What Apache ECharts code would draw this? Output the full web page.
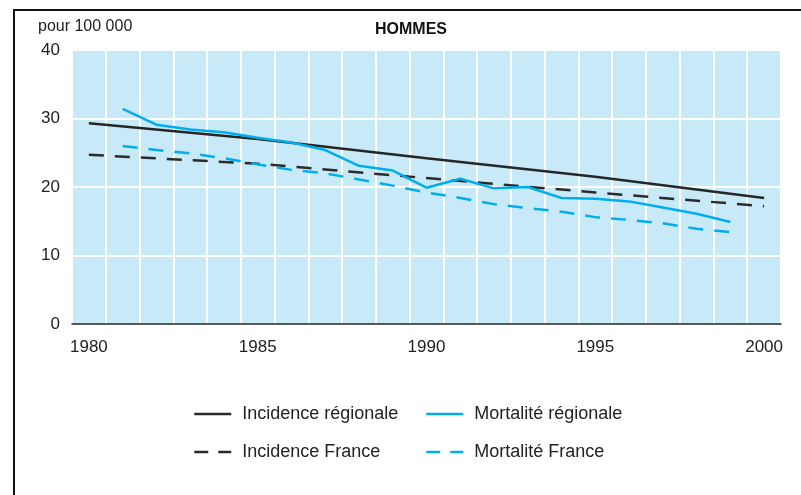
<!DOCTYPE html>
<html>
<head>
<meta charset="utf-8">
<script src="https://cdn.jsdelivr.net/npm/echarts@6/dist/echarts.min.js"></script>
<style>
  html, body { margin: 0; padding: 0; background: #fff; }
  #chart { width: 801px; height: 495px; }
</style>
</head>
<body>
<div id="chart"></div>
<script>
// années (axe des x)
const years = ['1980', '1981', '1982', '1983', '1984', '1985', '1986', '1987', '1988', '1989', '1990',
               '1991', '1992', '1993', '1994', '1995', '1996', '1997', '1998', '1999', '2000'];

// incidence : estimations quinquennales
const incidenceRegionale = [29.3, null, null, null, null, 27.0, null, null, null, null, 24.2,
                            null, null, null, null, 21.5, null, null, null, null, 18.4];
const incidenceFrance = [24.7, null, null, null, null, 23.4, null, null, null, null, 21.3,
                         null, null, null, null, 19.2, null, null, null, null, 17.2];

// mortalité : valeurs annuelles 1981-1999
const mortaliteRegionale = [null, 31.4, 29.1, 28.4, 28.0, 27.2, 26.5, 25.4, 23.1, 22.4, 19.9,
                            21.2, 19.8, 20.0, 18.4, 18.3, 17.9, 17.0, 16.1, 14.9, null];
const mortaliteFrance = [null, 26.0, 25.4, 24.9, 24.2, 23.3, 22.5, 22.0, 21.1, 20.2, 19.2,
                         18.4, 17.5, 16.9, 16.4, 15.6, 15.2, 14.7, 13.9, 13.4, null];

const yTicks = {min: 0, max: 40, interval: 10};

const dark = '#2b2b2b';
const blue = '#00aeef';
const font = 'Liberation Sans, Arial, Helvetica, sans-serif';

const chart = echarts.init(document.getElementById('chart'), null, {renderer: 'canvas'});

function serie(name, data, color, width, dashed) {
    return {
        name: name,
        type: 'line',
        data: data,
        symbol: 'none',
        connectNulls: true,
        silent: true,
        lineStyle: {color: color, width: width, type: dashed ? [15, 11] : 'solid', cap: 'butt'},
        itemStyle: {color: color}
    };
}

// entrée de légende : trait seul, pointillé ou non
function entree(name, color, dashed) {
    return {
        name: name,
        itemStyle: {opacity: 0},
        lineStyle: {color: color, width: 2.5, type: dashed ? [14, 10] : 'solid', cap: 'butt'}
    };
}

const legendText = {fontFamily: font, fontSize: 18, color: '#222', padding: [0, 0, 0, 6]};

chart.setOption({
    animation: false,
    graphic: [
        // cadre (haut et gauche)
        {type: 'rect', shape: {x: 14, y: 10, width: 900, height: 600},
         style: {fill: 'none', stroke: '#111', lineWidth: 2}, z: 100},
        {type: 'text', left: 38, top: 19,
         style: {text: 'pour 100 000', font: '16px ' + font, fill: '#222'}},
        {type: 'text', left: 375, top: 22,
         style: {text: 'HOMMES', font: 'bold 16px ' + font, fill: '#111'}}
    ],
    grid: {
        left: 72, right: 20, top: 50, bottom: 171,
        show: true, backgroundColor: '#c8e9f8', borderWidth: 0
    },
    legend: [
        {
            orient: 'vertical', left: 188, top: 400, itemGap: 20,
            itemWidth: 37, itemHeight: 20,
            textStyle: legendText,
            data: [entree('Incidence régionale', dark, false), entree('Incidence France', dark, true)]
        },
        {
            orient: 'vertical', left: 420, top: 400, itemGap: 20,
            itemWidth: 37, itemHeight: 20,
            textStyle: legendText,
            data: [entree('Mortalité régionale', blue, false), entree('Mortalité France', blue, true)]
        }
    ],
    xAxis: {
        type: 'category',
        data: years,
        boundaryGap: true,
        axisLine: {lineStyle: {color: '#222', width: 1.5}},
        axisTick: {show: false},
        axisLabel: {interval: 4, margin: 15, fontFamily: font, fontSize: 17, color: '#222'},
        splitLine: {show: true, interval: 0, lineStyle: {color: '#fff', width: 2}}
    },
    yAxis: {
        type: 'value',
        min: yTicks.min, max: yTicks.max, interval: yTicks.interval,
        axisLine: {show: false},
        axisTick: {show: false},
        axisLabel: {margin: 12, fontFamily: font, fontSize: 17, color: '#222'},
        splitLine: {lineStyle: {color: '#fff', width: 2}}
    },
    series: [
        serie('Incidence régionale', incidenceRegionale, '#262626', 2.4, false),
        serie('Incidence France', incidenceFrance, dark, 2.5, true),
        serie('Mortalité régionale', mortaliteRegionale, blue, 2.5, false),
        serie('Mortalité France', mortaliteFrance, blue, 2.5, true)
    ]
});
</script>
</body>
</html>
